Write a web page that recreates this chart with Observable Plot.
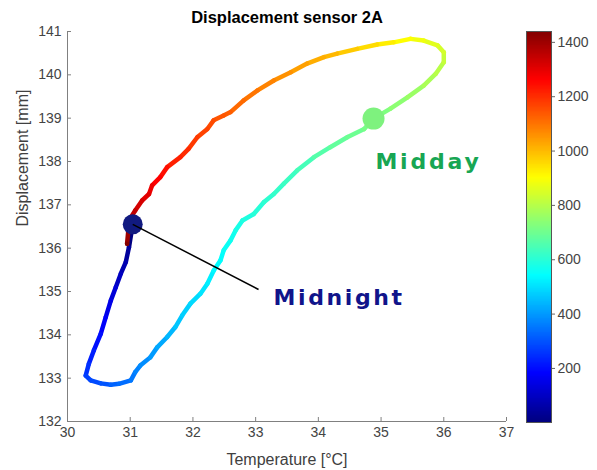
<!DOCTYPE html>
<html><head><meta charset="utf-8">
<script src="https://cdn.jsdelivr.net/npm/d3@7"></script>
<script src="https://cdn.jsdelivr.net/npm/@observablehq/plot@0.6"></script>
<style>
body{margin:0;background:#fff;}
#wrap{position:relative;width:597px;height:470px;}
#wrap svg{position:absolute;top:0;}
</style></head><body><div id="wrap"></div>
<script>
// Hysteresis loop: temperature [°C], displacement [mm], minute of the day
const temperature = [31.04,30.98,30.93,30.85,30.77,30.69,30.61,30.53,30.42,30.34,30.29,30.37,30.53,30.69,30.82,31.01,31.08,31.16,31.32,31.43,31.59,31.72,31.83,31.96,32.12,32.23,32.33,32.44,32.49,32.60,32.68,32.79,32.97,33.13,33.29,33.45,33.66,33.93,34.19,34.46,34.73,34.88,35.15,35.42,35.68,35.87,36.00,36.00,35.90,35.68,35.47,35.20,34.94,34.62,34.30,34.09,33.82,33.56,33.29,33.03,32.81,32.60,32.49,32.33,32.23,32.07,31.93,31.80,31.59,31.48,31.35,31.30,31.19,31.08,31.01,30.97,30.95];
const displacement = [136.55,136.02,135.68,135.41,135.10,134.79,134.41,134.02,133.64,133.33,133.06,132.95,132.88,132.85,132.87,132.95,133.14,133.29,133.48,133.71,133.95,134.18,134.45,134.72,134.95,135.18,135.48,135.72,135.95,136.18,136.41,136.64,136.79,137.06,137.25,137.49,137.79,138.10,138.33,138.56,138.75,138.99,139.22,139.48,139.75,140.02,140.29,140.52,140.68,140.79,140.83,140.75,140.70,140.60,140.49,140.41,140.26,140.06,139.87,139.64,139.41,139.14,139.06,138.95,138.75,138.56,138.29,138.10,137.87,137.64,137.45,137.25,137.10,136.87,136.71,136.41,136.10];
const minutes = [1,40,70,95,125,150,175,200,225,250,270,285,300,320,335,350,365,380,400,420,440,460,475,490,505,520,535,545,555,565,575,585,595,605,615,625,640,660,680,695,710,720,740,760,780,800,820,840,860,880,900,925,950,975,1000,1015,1035,1055,1075,1095,1110,1130,1140,1155,1165,1180,1200,1215,1240,1260,1285,1300,1320,1350,1370,1400,1435];

const xTicks = [30,31,32,33,34,35,36,37];
const yTicks = [132,133,134,135,136,137,138,139,140,141];
const colorTicks = [200,400,600,800,1000,1200,1400];
const colorDomain = [1,1440];

// annotations
const markerNames = ["Midnight","Midday"];
const markerTemp = [31.04,34.88];
const markerDisp = [136.55,138.99];
const labelTemp = [33.285,34.91];
const labelDisp = [134.85,137.98];
const leaderEnd = [33.046,135.046];

const data = temperature.map((T,i)=>({T, D: displacement[i], t: minutes[i]}));
const markers = markerNames.map((name,i)=>({name, T: markerTemp[i], D: markerDisp[i], lx: labelTemp[i], ly: labelDisp[i]}));

// jet colormap stops
const jetPos = [0,0.125,0.375,0.625,0.875,1];
const jetColors = ["#000080","#0000ff","#00ffff","#ffff00","#ff0000","#800000"];
const jetDomain = jetPos.map(p => colorDomain[0] + p*(colorDomain[1]-colorDomain[0]));
const colorScale = {type:"linear", domain: jetDomain, range: jetColors, interpolate:"rgb"};

const FONT = "'Liberation Sans', Arial, Helvetica, sans-serif";
const LABEL_FONT = "'DejaVu Sans', 'Noto Sans', sans-serif";

const main = Plot.plot({
  width: 597, height: 470,
  marginLeft: 67, marginRight: 91, marginTop: 31, marginBottom: 49,
  style: {fontFamily: FONT, background: "transparent"},
  x: {domain: [30,37]},
  y: {domain: [132,141]},
  color: colorScale,
  marks: [
    Plot.ruleX([30], {stroke:"#808080", strokeWidth:1}),
    Plot.ruleY([132], {stroke:"#808080", strokeWidth:1}),
    Plot.axisX(xTicks, {anchor:"bottom", tickSize:-4, tickPadding:10, fontSize:14, fill:"#444", stroke:"#808080", label:null}),
    Plot.axisY(yTicks, {anchor:"left", tickSize:-4, tickPadding:10, fontSize:14, fill:"#444", stroke:"#808080", label:null}),
    Plot.line(data, {x:"T", y:"D", stroke:"t", z:null, strokeWidth:4.5, strokeLinecap:"round", strokeLinejoin:"round"}),
    Plot.dot([markers[1]], {x:"T", y:"D", r:11, fill:"#7ef27e", stroke:"none"}),
    Plot.dot([markers[0]], {x:"T", y:"D", r:10, fill:"#111a80", stroke:"none"}),
    Plot.link([markers[0]], {x1:"T", y1:"D", x2: () => leaderEnd[0], y2: () => leaderEnd[1], stroke:"#000", strokeWidth:1.5}),
    Plot.text([markers[0]], {x:"lx", y:"ly", text:"name", textAnchor:"start", lineAnchor:"middle", fontSize:22, fontWeight:"bold", fill:"#10148a", fontFamily: LABEL_FONT}),
    Plot.text([markers[1]], {x:"lx", y:"ly", text:"name", textAnchor:"start", lineAnchor:"middle", fontSize:22, fontWeight:"bold", fill:"#18a653", fontFamily: LABEL_FONT}),
    Plot.text(["Displacement sensor 2A"], {frameAnchor:"top", dy:-9, lineAnchor:"bottom", fontSize:16.5, fontWeight:"bold", fill:"#000"}),
    Plot.text(["Temperature [°C]"], {frameAnchor:"bottom", dy:38, lineAnchor:"middle", fontSize:16, fill:"#404040"}),
    Plot.text(["Displacement [mm]"], {frameAnchor:"left", dx:-45, rotate:-90, lineAnchor:"middle", fontSize:16, fill:"#404040"})
  ]
});
d3.select(main).selectAll("text").filter(function(){return this.textContent==="Midnight";}).attr("letter-spacing","2.6px");
d3.select(main).selectAll("text").filter(function(){return this.textContent==="Midday";}).attr("letter-spacing","2.8px");

const ramp = d3.range(colorDomain[0], colorDomain[1], 3);
const bar = Plot.plot({
  width: 97, height: 470,
  marginLeft: 26, marginRight: 46, marginTop: 31, marginBottom: 48,
  style: {fontFamily: FONT, background: "transparent"},
  y: {domain: colorDomain},
  color: colorScale,
  marks: [
    Plot.rect(ramp, {y1: d => d, y2: d => Math.min(d + 3.6, colorDomain[1]), fill: d => d, shapeRendering:"crispEdges"}),
    Plot.frame({stroke:"#555", strokeWidth:1}),
    Plot.axisY(colorTicks, {anchor:"right", tickSize:3, tickPadding:3, fontSize:14, fill:"#444", stroke:"#666", label:null, tickFormat: d => String(d)})
  ]
});
bar.style.left = "500px";
main.style.left = "0px";
document.getElementById("wrap").append(main, bar);
</script></body></html>
